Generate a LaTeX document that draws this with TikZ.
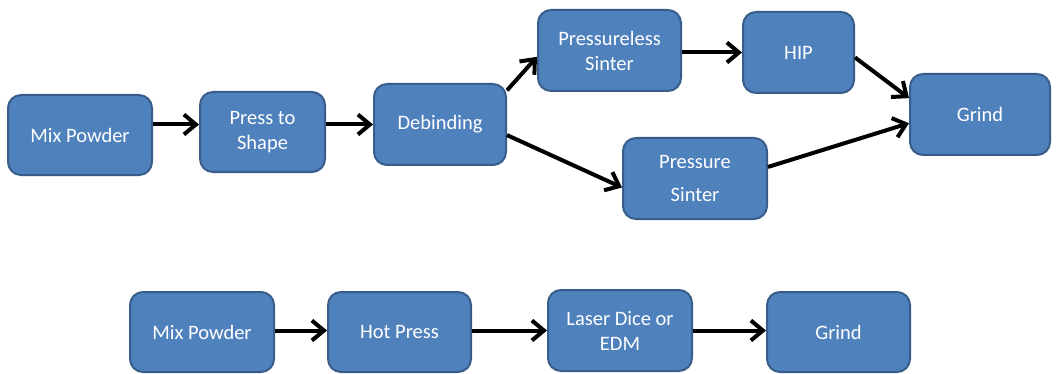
\documentclass[tikz,border=0pt]{standalone}
\usepackage{fontspec}
\setmainfont{Carlito}
\usetikzlibrary{arrows.meta,calc}
\definecolor{boxfill}{HTML}{4F81BD}
\definecolor{boxline}{HTML}{385D8A}
\tikzset{
  procbox/.style={draw=boxline, line width=2pt, fill=boxfill, rounded corners=13pt,
    text=white, align=center, inner sep=2pt, font=\fontsize{20.5}{25}\selectfont},
  flow/.style={line width=4pt, black, -{Straight Barb[length=12pt,width=20pt]}}
}
\begin{document}
\begin{tikzpicture}[x=1pt,y=-1pt]
\useasboundingbox (0,0) rectangle (1056,374);
% row 1
\node[procbox, minimum width=144pt, minimum height=80pt] (mixa) at (80,135) {Mix Powder};
\node[procbox, minimum width=125pt, minimum height=80pt] (press) at (262.5,132) {Press to\\Shape};
\node[procbox, minimum width=132pt, minimum height=81pt] (deb) at (440,124.5) {Debinding};
\node[procbox, minimum width=143pt, minimum height=81pt] (pless) at (609.5,50.5) {Pressureless\\Sinter};
\node[procbox, minimum width=111pt, minimum height=81pt] (hip) at (798.5,52.5) {HIP};
\node[procbox, minimum width=140pt, minimum height=81pt] (grinda) at (980,114.5) {Grind};
\node[procbox, minimum width=144pt, minimum height=81pt] (psint) at (695,178.5) {Pressure\\[8pt]Sinter};
% row 2
\node[procbox, minimum width=144pt, minimum height=80pt] (mixb) at (202,332) {Mix Powder};
\node[procbox, minimum width=143pt, minimum height=80pt] (hot) at (399.5,332) {Hot Press};
\node[procbox, minimum width=144pt, minimum height=81pt] (laser) at (620,330.5) {Laser Dice or\\EDM};
\node[procbox, minimum width=143pt, minimum height=80pt] (grindb) at (838.5,332) {Grind};
% connectors row 1
\draw[flow] (mixa.east |- deb.west) -- (press.west |- deb.west);
\draw[flow] (press.east |- deb.west) -- (deb.west);
\draw[flow] (deb.27) -- (pless.185);
\draw[flow] (deb.-9) -- (psint.187);
\draw[flow] (pless.east |- hip.west) -- (hip.west);
\draw[flow] (hip.-5) -- (grinda.167);
\draw[flow] (psint.9) -- (grinda.187);
% connectors row 2
\draw[flow] (mixb.east |- laser.west) -- (hot.west |- laser.west);
\draw[flow] (hot.east |- laser.west) -- (laser.west);
\draw[flow] (laser.east) -- (grindb.west |- laser.east);
\end{tikzpicture}
\end{document}
